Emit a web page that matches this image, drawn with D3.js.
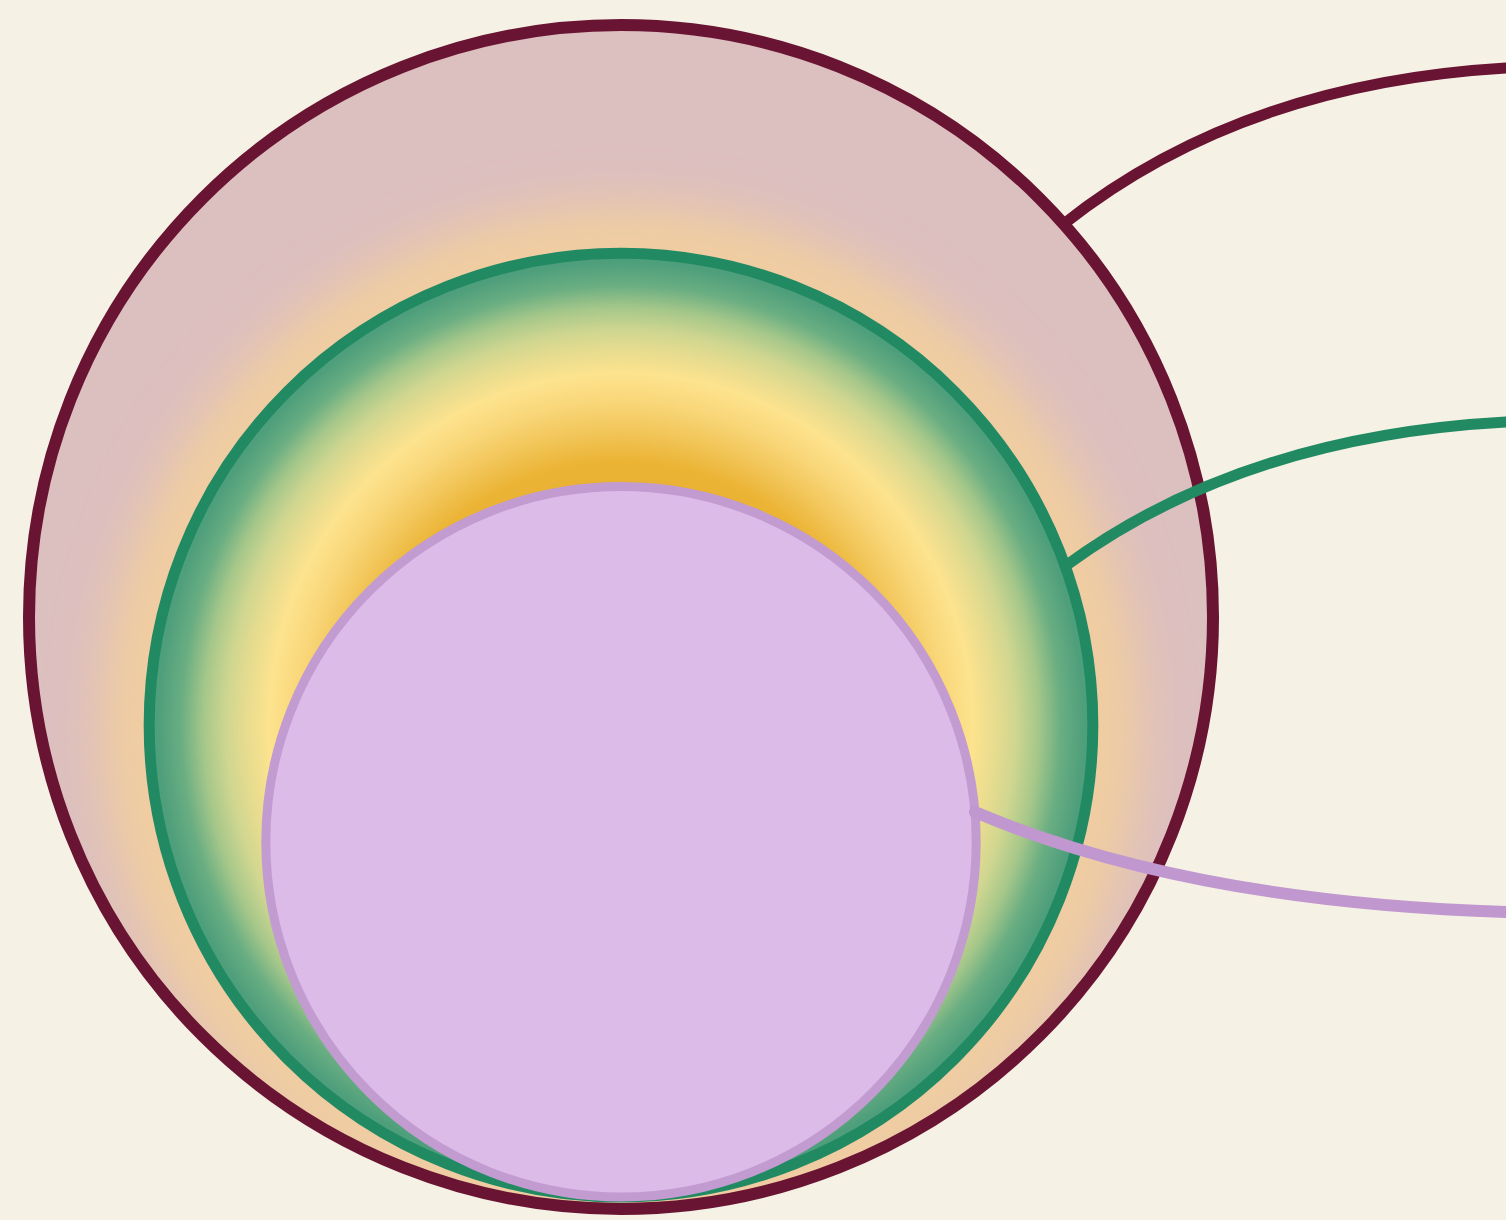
<!DOCTYPE html>
<html>
<head>
<meta charset="utf-8">
<script src="https://cdn.jsdelivr.net/npm/d3@7/dist/d3.min.js"></script>
<style>
html,body{margin:0;padding:0;background:#f5f1e5;}
svg{display:block;}
</style>
</head>
<body>
<svg id="chart" width="1506" height="1220"></svg>
<script>
// ---- data ----
const layers = ["outer", "middle", "inner"];
const sizes = [100, 79.7, 60];              // relative size of each nested circle (outer = 100)
const calloutAngles = [-41.6, -19.7, -4.8]; // where each leader line leaves its circle (deg)
const calloutLevels = [68, 422, 912];       // where each leader line meets the right edge

// ---- styling ----
const W = 1506, H = 1220;
const strokeCol = ["#6a1433", "#228a63", "#c29bd0"];
const strokeW = [12, 11, 9];
const leaderW = [11, 11, 12];
const svg = d3.select("#chart");
svg.append("rect").attr("width", W).attr("height", H).attr("fill", "#f5f1e5");

const rScale = d3.scaleLinear().domain([0, 100]).range([0, 592]);
const cx = 621;
const outerCy = 617;
const innerBase = 1197; // middle & inner circles touch here

const circles = layers.map((name, i) => {
  const r = rScale(sizes[i]);
  const cy = i === 0 ? outerCy : innerBase - r;
  return {name, r, cx, cy, i};
});

const defs = svg.append("defs");

// middle gradient: gold in the middle -> light yellow -> green at the rim
const gm = defs.append("radialGradient").attr("id", "gMid")
  .attr("gradientUnits", "userSpaceOnUse")
  .attr("cx", cx).attr("cy", circles[1].cy).attr("r", circles[1].r);
[[0, "#e6ac2c"], [0.50, "#e9b133"], [0.56, "#ebb435"], [0.624, "#f2c65a"], [0.688, "#f9d77a"],
 [0.745, "#fde38e"], [0.794, "#e7dc8f"], [0.837, "#cfd690"], [0.885, "#a5c78a"], [0.932, "#6aae82"],
 [0.98, "#4f9f7c"], [1, "#4a9d7a"]]
  .forEach(([o, c]) => gm.append("stop").attr("offset", o).attr("stop-color", c));

// glow around middle circle inside outer circle
const blur = defs.append("filter").attr("id", "glow")
  .attr("x", "-20%").attr("y", "-20%").attr("width", "140%").attr("height", "140%");
blur.append("feGaussianBlur").attr("stdDeviation", 28);
defs.append("clipPath").attr("id", "clipOuter").append("circle")
  .attr("cx", circles[0].cx).attr("cy", circles[0].cy).attr("r", circles[0].r);

// outer base
svg.append("circle").attr("cx", circles[0].cx).attr("cy", circles[0].cy).attr("r", circles[0].r)
  .attr("fill", "#dcbfbf");
svg.append("g").attr("clip-path", "url(#clipOuter)")
  .append("circle").attr("cx", circles[1].cx).attr("cy", circles[1].cy).attr("r", circles[1].r + 10)
  .attr("fill", "none").attr("stroke", "#f6d197").attr("stroke-width", 60)
  .attr("filter", "url(#glow)");

const fills = ["none", "url(#gMid)", "#dcbbe8"];

svg.selectAll("circle.layer").data(circles).join("circle")
  .attr("class", "layer")
  .attr("cx", d => d.cx).attr("cy", d => d.cy).attr("r", d => d.r)
  .attr("fill", d => fills[d.i])
  .attr("stroke", d => strokeCol[d.i])
  .attr("stroke-width", d => strokeW[d.i]);

// leader lines
const leaders = circles.map((c, i) => {
  const a = calloutAngles[i] * Math.PI / 180;
  const x0 = c.cx + c.r * Math.cos(a), y0 = c.cy + c.r * Math.sin(a);
  const x1 = W, y1 = calloutLevels[i];
  const qx = x0 + (x1 - x0) * 0.4;
  const qy = y1 + (y0 - y1) * 0.1;
  return {i, path: `M${x0},${y0} Q${qx},${qy} ${x1},${y1}`};
});
svg.selectAll("path.leader").data(leaders).join("path")
  .attr("class", "leader")
  .attr("d", d => d.path)
  .attr("fill", "none")
  .attr("stroke", d => d.i === 2 ? "#c097cf" : strokeCol[d.i])
  .attr("stroke-width", d => leaderW[d.i])
  .attr("stroke-linecap", "round");
</script>
</body>
</html>
